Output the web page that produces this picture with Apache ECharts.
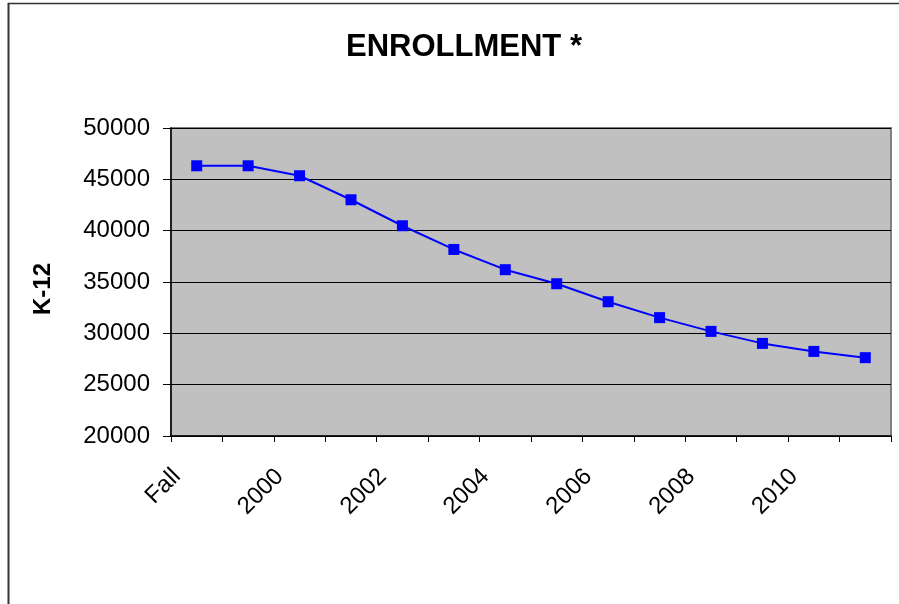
<!DOCTYPE html>
<html>
<head>
<meta charset="utf-8">
<script src="https://cdn.jsdelivr.net/npm/echarts@6/dist/echarts.min.js"></script>
<style>
  html, body { margin: 0; padding: 0; background: #fff; }
  #chart { width: 899px; height: 604px; }
</style>
</head>
<body>
<div id="chart"></div>
<script>
// K-12 enrollment by fall of each school year
const years = ['Fall', '1999', '2000', '2001', '2002', '2003', '2004', '2005',
               '2006', '2007', '2008', '2009', '2010', '2011'];
const enrollment = [46320, 46320, 45350, 43010, 40480, 38170, 36200, 34830,
                    33080, 31530, 30190, 29020, 28240, 27630];
const yTicks = { min: 20000, max: 50000, step: 5000 };

const FONT = '"Liberation Sans", Arial, sans-serif';

const chart = echarts.init(document.getElementById('chart'), null, { renderer: 'canvas' });

chart.setOption({
  backgroundColor: '#ffffff',
  animation: false,
  title: {
    text: 'ENROLLMENT *',
    left: 459,
    textAlign: 'center',
    top: 27,
    textStyle: { fontFamily: FONT, fontWeight: 'bold', fontSize: 31, color: '#000' }
  },
  grid: {
    left: 171, right: 8, top: 128, bottom: 168,
    show: true,
    backgroundColor: '#C0C0C0',
    borderColor: '#808080',
    borderWidth: 2
  },
  xAxis: {
    type: 'category',
    data: years,
    boundaryGap: true,
    axisLine: { lineStyle: { color: '#000', width: 1.5 } },
    axisTick: { show: true, length: 6, alignWithLabel: false, interval: 0, lineStyle: { color: '#000' } },
    axisLabel: {
      interval: 1,
      rotate: 45,
      margin: 17,
      padding: [0, 28, 0, 0],
      fontFamily: FONT,
      fontSize: 24,
      color: '#000'
    },
    splitLine: { show: false }
  },
  yAxis: {
    type: 'value',
    min: yTicks.min,
    max: yTicks.max,
    interval: yTicks.step,
    name: 'K-12',
    nameLocation: 'middle',
    nameGap: 116,
    nameRotate: 90,
    nameTextStyle: {
      fontFamily: FONT, fontWeight: 'bold', fontSize: 24, color: '#000',
      padding: [0, 14, 0, 0]
    },
    axisLine: { show: true, lineStyle: { color: '#000', width: 1.5 } },
    axisTick: { show: true, length: 8, lineStyle: { color: '#000' } },
    axisLabel: {
      margin: 21, fontFamily: FONT, fontSize: 24, color: '#000',
      formatter: v => String(v)
    },
    splitLine: { show: true, lineStyle: { color: '#000', width: 1 } }
  },
  series: [{
    type: 'line',
    data: enrollment,
    symbol: 'rect',
    symbolSize: 11,
    lineStyle: { color: '#0000FF', width: 2 },
    itemStyle: { color: '#0000FF' }
  }],
  graphic: [
    { type: 'line', shape: { x1: 8.5, y1: 3, x2: 8.5, y2: 604 }, style: { stroke: '#333', lineWidth: 2 } },
    { type: 'line', shape: { x1: 8, y1: 3.5, x2: 899, y2: 3.5 }, style: { stroke: '#333', lineWidth: 1.5 } }
  ]
});
</script>
</body>
</html>
